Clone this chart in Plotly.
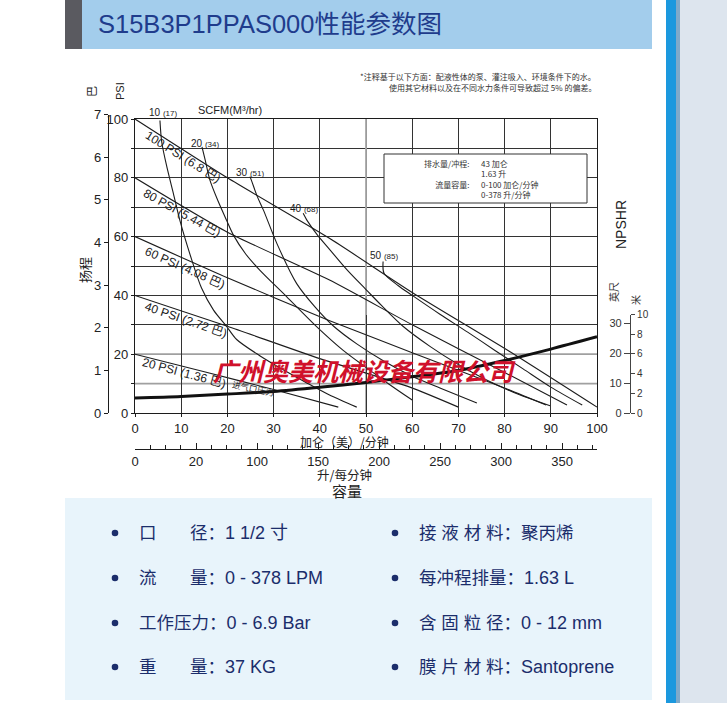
import plotly.graph_objects as go

W, H = 727, 703


def px(x):
    return x / W


def py(y):
    return 1 - y / H


# ---------------- data ----------------
gpm_ticks = list(range(0, 101, 10))
psi_ticks = list(range(0, 101, 10))
psi_tick_text = [str(v) if v % 20 == 0 else "" for v in psi_ticks]
bar_ticks = list(range(0, 8))
litre_ticks = [0, 50, 100, 150, 200, 250, 300, 350, 378]
litre_tick_text = ["0", "20", "100", "150", "200", "250", "300", "350", ""]
ft_ticks = [0, 10, 20, 30]
m_ticks = [0, 2, 4, 6, 8, 10]
light_grid_gpm = [50]
light_grid_psi = [10, 20]

# air inlet pressure lines (gpm, psi)
psi100_x = [0, 20, 42, 60, 81, 100]
psi100_y = [100, 80, 59.5, 41, 21, 2]
psi80_x = [0, 20, 42, 60, 80, 93.5]
psi80_y = [80, 61.5, 45.3, 30, 13.8, 2.7]
psi60_x = [0, 20, 42, 60, 80, 89]
psi60_y = [60, 46, 31.5, 20.5, 8.5, 2.7]
psi40_x = [0, 20, 40, 59.5, 70]
psi40_y = [40, 29.5, 18.5, 8.8, 2]
psi20_x = [0, 15, 30, 44]
psi20_y = [20, 14, 8, 2]

# air consumption curves (gpm, psi)
scfm10_x = [5.4, 5.8, 7, 8.3, 9.7, 12.3, 14.4, 17, 19.8, 22, 27, 32, 37, 42, 48]
scfm10_y = [99.5, 92, 83, 74.7, 65.6, 52, 42.5, 35, 29.5, 25, 19.5, 14.8, 10.4, 6.2, 2]
scfm20_x = [14.5, 15.2, 16.2, 18, 19.8, 21.3, 24, 27, 32.8, 39.3, 45, 50, 55, 60]
scfm20_y = [90.5, 86, 79.3, 72, 65.6, 60.5, 54, 48.6, 39.6, 29.4, 21.4, 15.5, 9.8, 4.4]
scfm30_x = [24.9, 25.3, 26.5, 27.8, 30.7, 35, 39, 43, 48, 54, 60, 66, 74]
scfm30_y = [80.4, 78.7, 73.5, 69, 57.7, 44, 36, 29.5, 23.5, 17.5, 12.5, 8.5, 3.4]
scfm40_x = [36.4, 37.2, 39.5, 42.2, 46, 50, 53.4, 58, 64, 70, 76, 82, 90]
scfm40_y = [67.9, 65.6, 60.5, 55.5, 48.5, 42, 36.5, 29.5, 22.5, 16.5, 11.3, 7, 2.4]
scfm50_x = [53.7, 53.9, 57, 60, 66, 72, 78, 84, 90, 96.8]
scfm50_y = [51.5, 47.5, 43.3, 40, 33.6, 27.5, 21.2, 15, 8.8, 2.7]

# NPSHR (gpm, feet)
npshr_x = [0, 10, 20, 30, 40, 50, 60, 70, 80, 90, 100]
npshr_y = [5, 5.5, 6.3, 7.2, 8.6, 10.2, 12.1, 14.2, 17.5, 21.3, 25.4]

psi_labels = ["100 PSI (6.8 巴)", "80 PSI (5.44 巴)", "60 PSI (4.08 巴)",
              "40 PSI (2.72 巴)", "20 PSI (1.36 巴)"]
scfm_labels = [("10", "(17)"), ("20", "(34)"), ("30", "(51)"), ("40", "(68)"), ("50", "(85)")]
box_keys = ["排水量/冲程:", " ", "流量容量:", " "]
box_vals = ["43 加仑", "1.63 升", "0-100 加仑/分钟", "0-378 升/分钟"]

spec_left = [("口", "径：", "1 1/2 寸"), ("流", "量：", "0 - 378 LPM"),
             ("工作压力：", None, "0 - 6.9 Bar"), ("重", "量：", "37 KG")]
spec_right = [("接 液 材 料：", "聚丙烯"), ("每冲程排量：", "1.63 L"),
              ("含 固 粒 径：", "0 - 12 mm"), ("膜 片 材 料：", "Santoprene")]

# ---------------- figure ----------------
LINE = "#1c1c1c"
GRID = "#333333"
TXT = "#222222"
NAVY = "#1b2d6b"
FONT = "Liberation Sans, Arial, Noto Sans CJK SC, sans-serif"
PANEL = "Liberation Sans, Arial, Noto Sans CJK SC, sans-serif"
CJK = "Noto Sans CJK SC, sans-serif"

fig = go.Figure()

for xs, ys in [(psi100_x, psi100_y), (psi80_x, psi80_y), (psi60_x, psi60_y),
               (psi40_x, psi40_y), (psi20_x, psi20_y)]:
    fig.add_trace(go.Scatter(x=xs, y=ys, mode="lines",
                             line=dict(color=LINE, width=1.1, shape="spline", smoothing=0.6),
                             hoverinfo="skip", showlegend=False))

for xs, ys in [(scfm10_x, scfm10_y), (scfm20_x, scfm20_y), (scfm30_x, scfm30_y),
               (scfm40_x, scfm40_y), (scfm50_x, scfm50_y)]:
    fig.add_trace(go.Scatter(x=xs, y=ys, mode="lines",
                             line=dict(color=LINE, width=1.1, shape="spline", smoothing=0.8),
                             hoverinfo="skip", showlegend=False))

fig.add_trace(go.Scatter(x=npshr_x, y=npshr_y, mode="lines", xaxis="x", yaxis="y3",
                         line=dict(color="#111111", width=3, shape="spline", smoothing=0.8),
                         hoverinfo="skip", showlegend=False))

# helper traces so that the extra axes are drawn
fig.add_trace(go.Scatter(x=[0], y=[0], xaxis="x2", yaxis="y", mode="markers",
                         marker=dict(opacity=0), hoverinfo="skip", showlegend=False))
fig.add_trace(go.Scatter(x=[0], y=[0], xaxis="x3", yaxis="y2", mode="markers",
                         marker=dict(opacity=0), hoverinfo="skip", showlegend=False))
fig.add_trace(go.Scatter(x=[0], y=[0], xaxis="x3", yaxis="y4", mode="markers",
                         marker=dict(opacity=0), hoverinfo="skip", showlegend=False))

XD = [px(135), px(597)]
common_tick = dict(tickcolor=LINE, tickfont=dict(size=13, color=TXT, family=FONT))

fig.update_layout(
    autosize=True, margin=dict(l=0, r=0, t=0, b=0, autoexpand=False),
    paper_bgcolor="white", plot_bgcolor="rgba(0,0,0,0)",
    font=dict(family=FONT, color=TXT),
    showlegend=False,
    xaxis=dict(domain=XD, range=[0, 100], tickvals=gpm_ticks, showgrid=True,
               gridcolor=GRID, gridwidth=1.2, showline=True, linecolor=LINE, linewidth=1.3,
               mirror=True, ticks="outside", ticklen=3, zeroline=False, anchor="y",
               **common_tick),
    yaxis=dict(domain=[py(413), py(119)], range=[0, 100], tickvals=psi_ticks,
               ticktext=psi_tick_text, showgrid=True, gridcolor=GRID, gridwidth=1.2,
               showline=True, linecolor=LINE, linewidth=1.3, mirror=True, ticks="outside",
               ticklen=3, zeroline=False, anchor="x", **common_tick),
    xaxis2=dict(overlaying="x", anchor="free", position=py(449), side="bottom",
                range=[0, 378.541], tickvals=litre_ticks, ticktext=litre_tick_text,
                ticks="inside", ticklen=6, showline=True, linecolor=LINE, linewidth=1.2,
                showgrid=False, zeroline=False,
                minor=dict(tickmode="linear", tick0=0, dtick=12.5, ticks="inside",
                           ticklen=4, tickcolor=LINE, showgrid=False),
                **common_tick),
    xaxis3=dict(domain=XD, range=[0, 1], visible=False, anchor="y2"),
    yaxis2=dict(anchor="free", position=px(108), domain=[py(413), py(114.5)], range=[0, 7],
                tickvals=bar_ticks, ticks="outside", ticklen=4, showline=True,
                linecolor=LINE, linewidth=1.2, showgrid=False, zeroline=False, **common_tick),
    yaxis3=dict(anchor="free", position=px(630), side="left",
                domain=[py(413), py(314.6)], range=[0, 32.808], tickvals=ft_ticks,
                ticks="outside", ticklen=6, showline=True, linecolor="#444", linewidth=1.2,
                showgrid=False, zeroline=False, tickcolor="#444",
                tickfont=dict(size=11, color="#333", family=FONT)),
    yaxis4=dict(anchor="free", position=px(630), side="right",
                domain=[py(413), py(314.6)], range=[0, 10], tickvals=m_ticks,
                ticks="outside", ticklen=4, showline=True, linecolor="#444", linewidth=1.2,
                showgrid=False, zeroline=False, tickcolor="#444",
                tickfont=dict(size=10, color="#333", family=FONT)),
)

shapes = []


def rect(x0, y0, x1, y1, fill, layer="below", line=None, kind="rect"):
    shapes.append(dict(type=kind, xref="paper", yref="paper",
                       x0=px(x0), x1=px(x1), y0=py(y1), y1=py(y0),
                       fillcolor=fill, layer=layer,
                       line=line if line else dict(width=0)))


rect(65, 0, 652, 49, "#a3cdec")
rect(65, 0, 82, 49, "#5a5a60")
rect(666, 0, 676, 703, "#1b98de")
rect(676, 0, 680, 703, "#7fa9c9")
rect(680, 0, 727, 703, "#dde5ee")
rect(65, 498, 652, 700, "#e8f4fb")
# legend box of the chart
rect(384, 154, 587, 203, "white", layer="above", line=dict(color="#333", width=1))

# lighter grid lines (between grid and traces)
for g in light_grid_gpm:
    shapes.append(dict(type="line", xref="x", yref="y", x0=g, x1=g, y0=0, y1=100,
                       layer="between", line=dict(color="#a8a8a8", width=1.8)))
for g in light_grid_psi:
    shapes.append(dict(type="line", xref="x", yref="y", x0=0, x1=100, y0=g, y1=g,
                       layer="between", line=dict(color="#a0a0a0", width=1.8)))

rows_y = [533, 578, 623, 667]
for y in rows_y:
    for bx in (115, 395):
        rect(bx - 3.3, y - 3.3, bx + 3.3, y + 3.3, "#1b2d6b", layer="above", kind="circle")
fig.update_layout(shapes=shapes)

anns = []


def ann(text, x, y, size, color=TXT, xanchor="center", yanchor="middle", angle=0,
        family=FONT, **kw):
    anns.append(dict(text=text, x=px(x), y=py(y), xref="paper", yref="paper",
                     showarrow=False, xanchor=xanchor, yanchor=yanchor, textangle=angle,
                     font=dict(size=size, color=color, family=family), **kw))


# title
ann("S15B3P1PPAS000性能参数图", 96, 24, 25.5, color="#1f3c8c", xanchor="left")

# note
ann("*注释基于以下方面：配液性体的泵、灌注吸入、环境条件下的水。", 598, 76, 8,
    color="#333", xanchor="right", family=CJK)
ann("使用其它材料以及在不同水力条件可导致超过 5% 的偏差。", 598, 87, 8,
    color="#333", xanchor="right", family=CJK)

# axis titles
ann("巴", 91, 92, 11, angle=-90, family=CJK)
ann("PSI", 120, 91, 11, angle=-90)
ann("扬程", 85, 270, 13, angle=-90, family=CJK)
ann("NPSHR", 621, 225, 14, angle=-90)
ann("英尺", 614, 292, 10, angle=-90, family=CJK, color="#333")
ann("米", 635, 300, 10, angle=-90, family=CJK, color="#333")
ann("SCFM(M³/hr)", 230, 110, 11)
ann("加仑（美）/分钟", 344, 441, 12, family=CJK)
ann("升/每分钟", 344, 474, 12.5, family=CJK)
ann("容量", 347, 490, 15, family=CJK)

# pressure line labels
psi_pos = [(183, 157, 32), (182, 213, 29), (185, 268, 24), (186, 320, 19), (184, 373, 15)]
for lab, (x, y, a) in zip(psi_labels, psi_pos):
    ann(lab, x, y, 12, angle=a)
ann("进气口压力", 253, 388, 8.5, angle=12, family=CJK)

# air consumption labels
scfm_pos = [(163, 113), (205, 143), (250, 172), (304, 208), (384, 255)]
for (a, b), (x, y) in zip(scfm_labels, scfm_pos):
    ann(f"{a} <span style='font-size:8px'>{b}</span>", x, y, 10)

# legend box text
ann("<br>".join(box_keys), 471, 179, 8, xanchor="right", family=CJK, color="#333",
    align="right")
ann("<br>".join(box_vals), 479, 179, 8, xanchor="left", family=CJK, color="#333",
    align="left")

# watermark
ann("<b><i>广州奥美机械设备有限公司</i></b>", 364, 370, 25, color="#d0112b", family=CJK)

# spec panel
for (a, b, c), y in zip(spec_left, rows_y):
    big = f"<span style='font-size:18px'>{c}</span>"
    if b is None:
        ann(a + big, 137, y, 17.5, color=NAVY, xanchor="left", family=PANEL)
    else:
        ann(a, 137, y, 17.5, color=NAVY, xanchor="left", family=PANEL)
        ann(b + big, 188, y, 17.5, color=NAVY, xanchor="left", family=PANEL)
for (a, c), y in zip(spec_right, rows_y):
    if c and c[0].isascii():
        c = f"<span style='font-size:18px'>{c}</span>"
    ann(a + c, 417, y, 17.5, color=NAVY, xanchor="left", family=PANEL)

fig.update_layout(annotations=anns)

post = (
    "var s=document.createElement('style');"
    "s.textContent='html,body{margin:0;padding:0;overflow:hidden;}';"
    "document.head.appendChild(s);"
    "var gd=document.getElementById('{plot_id}');"
    "gd.style.width='100vw';gd.style.height='100vh';"
    "Plotly.Plots.resize(gd);"
)
fig.write_html("out.html", config={"displayModeBar": False, "responsive": True},
               default_width="100vw", default_height="100vh", post_script=post)
